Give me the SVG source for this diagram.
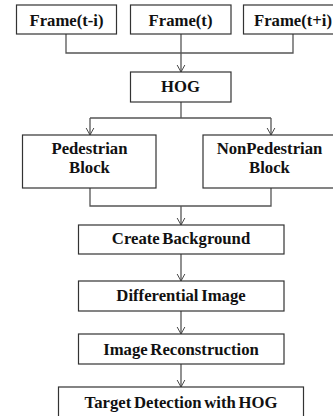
<svg xmlns="http://www.w3.org/2000/svg" width="333" height="416" viewBox="0 0 333 416">
<defs>
<marker id="arr" viewBox="0 0 10 12" refX="10" refY="6" markerWidth="7" markerHeight="10" markerUnits="userSpaceOnUse" orient="auto">
<path d="M0,0.5 L10,6 L0,11.5" fill="none" stroke="#444" stroke-width="1.4"/>
</marker>
</defs>
<style>
.box{fill:#fff;stroke:#333;stroke-width:1.2}
.t{font-family:"Liberation Serif","Times New Roman",serif;font-weight:bold;font-size:16.7px;word-spacing:-1.5px;fill:#111;text-anchor:middle}
.c{fill:none;stroke:#555;stroke-width:1.3}
</style>
<rect width="333" height="416" fill="#fff"/>
<g id="connectors">
<polyline class="c" points="66,34 66,53 293,53 293,34"/>
<line class="c" x1="181" y1="34" x2="181" y2="72" marker-end="url(#arr)"/>
<polyline class="c" points="181,102 181,118"/>
<polyline class="c" points="90,118 271,118"/>
<line class="c" x1="90" y1="118" x2="90" y2="135" marker-end="url(#arr)"/>
<line class="c" x1="271" y1="118" x2="271" y2="135" marker-end="url(#arr)"/>
<polyline class="c" points="90,188 90,206 271,206 271,188"/>
<line class="c" x1="181" y1="206" x2="181" y2="225" marker-end="url(#arr)"/>
<line class="c" x1="181" y1="254" x2="181" y2="281" marker-end="url(#arr)"/>
<line class="c" x1="181" y1="311" x2="181" y2="334" marker-end="url(#arr)"/>
<line class="c" x1="181" y1="364" x2="181" y2="387" marker-end="url(#arr)"/>
</g>
<g id="frame-ti">
<rect class="box" x="16.5" y="5" width="100" height="29"/>
<text class="t" x="66.5" y="26">Frame(t-i)</text>
</g>
<g id="frame-t">
<rect class="box" x="130.5" y="5" width="100.5" height="29"/>
<text class="t" x="180.5" y="26">Frame(t)</text>
</g>
<g id="frame-tpi">
<rect class="box" x="243.5" y="5" width="100" height="29"/>
<text class="t" x="293" y="26">Frame(t+i)</text>
</g>
<g id="hog">
<rect class="box" x="130.5" y="72" width="100.5" height="30"/>
<text class="t" x="180.5" y="92">HOG</text>
</g>
<g id="pedestrian">
<rect class="box" x="22.5" y="135" width="133.5" height="53"/>
<text class="t" x="89.5" y="154">Pedestrian</text>
<text class="t" x="89.5" y="173">Block</text>
</g>
<g id="nonpedestrian">
<rect class="box" x="203" y="135" width="135" height="53"/>
<text class="t" x="269.5" y="154">NonPedestrian</text>
<text class="t" x="269.5" y="173">Block</text>
</g>
<g id="create-background">
<rect class="box" x="78.5" y="225" width="205.5" height="29"/>
<text class="t" x="181" y="244">Create Background</text>
</g>
<g id="differential-image">
<rect class="box" x="78.5" y="281" width="205.5" height="30"/>
<text class="t" x="181" y="301">Differential Image</text>
</g>
<g id="image-reconstruction">
<rect class="box" x="78.5" y="334" width="205.5" height="30"/>
<text class="t" x="181" y="354.5">Image Reconstruction</text>
</g>
<g id="target-detection">
<rect class="box" x="58.5" y="387" width="245" height="40"/>
<text class="t" x="181" y="407.5">Target Detection with HOG</text>
</g>
</svg>
